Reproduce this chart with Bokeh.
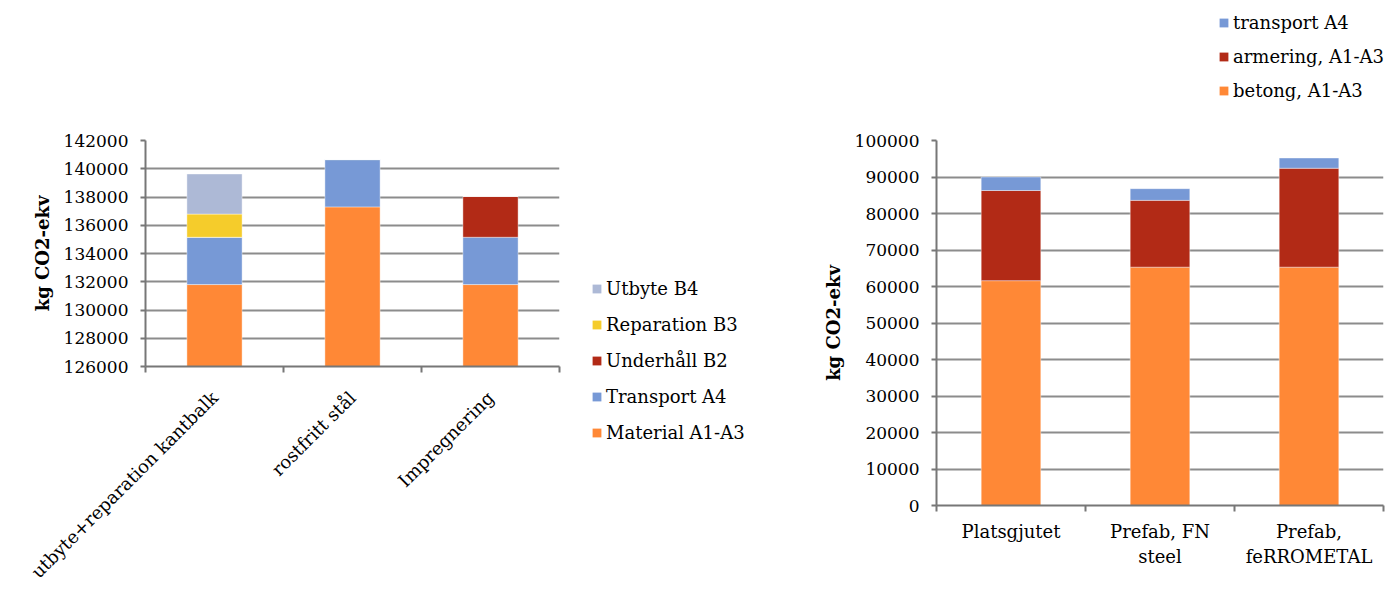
import math
from bokeh.plotting import figure
from bokeh.layouts import row, column
from bokeh.models import Range1d, FixedTicker, Legend, LegendItem, ColumnDataSource
from bokeh.embed import file_html
from bokeh.resources import INLINE

# ---------- data: left chart ----------
left_categories = ["utbyte+reparation kantbalk", "rostfritt stål", "Impregnering"]
left_series = ["Material A1-A3", "Transport A4", "Underhåll B2", "Reparation B3", "Utbyte B4"]
material = [131800, 137300, 131800]
transport_left = [3350, 3350, 3350]
underhall = [0, 0, 2890]
reparation = [1640, 0, 0]
utbyte = [2840, 0, 0]
left_ticks = [126000, 128000, 130000, 132000, 134000, 136000, 138000, 140000, 142000]

# ---------- data: right chart ----------
right_categories = ["Platsgjutet", "Prefab, FN\nsteel", "Prefab,\nfeRROMETAL"]
right_series = ["betong, A1-A3", "armering, A1-A3", "transport A4"]
betong = [61600, 65300, 65300]
armering = [24700, 18300, 27100]
transport_right = [3700, 3200, 2800]
right_ticks = [0, 10000, 20000, 30000, 40000, 50000, 60000, 70000, 80000, 90000, 100000]

y_label = "kg CO2-ekv"

ORANGE = "#FF8836"
BLUE = "#7799D6"
RED = "#B22A16"
YELLOW = "#F5CC2B"
LAVENDER = "#ADB9D6"
left_colors = [ORANGE, BLUE, RED, YELLOW, LAVENDER]
right_colors = [ORANGE, RED, BLUE]

FONT = "DejaVu Serif"
GRID = "#8c8c8c"
AXIS = "#777777"

lsrc = ColumnDataSource(dict(x=[0.5, 1.5, 2.5], m=material, t=transport_left, u=underhall,
                             r=reparation, b=utbyte))
lkeys = ["m", "t", "u", "r", "b"]
rsrc = ColumnDataSource(dict(x=[0.5, 1.5, 2.5], b=betong, a=armering, t=transport_right))
rkeys = ["b", "a", "t"]


def style(p, yticks, ncat, labels, rotate):
    p.outline_line_color = None
    p.xgrid.grid_line_color = None
    p.ygrid.grid_line_color = GRID
    p.ygrid.grid_line_width = 2
    p.yaxis.ticker = FixedTicker(ticks=yticks)
    p.yaxis.major_tick_out = 5
    p.yaxis.major_tick_in = 0
    p.yaxis.minor_tick_line_color = None
    p.yaxis.axis_line_color = AXIS
    p.yaxis.axis_line_width = 2
    p.yaxis.major_tick_line_color = AXIS
    p.yaxis.major_tick_line_width = 2
    p.yaxis.major_label_text_font = FONT
    p.yaxis.major_label_text_font_size = "17px"
    p.yaxis.major_label_text_color = "black"
    p.yaxis.major_label_standoff = 12
    p.yaxis.axis_label = y_label
    p.yaxis.axis_label_text_font = FONT
    p.yaxis.axis_label_text_font_style = "bold"
    p.yaxis.axis_label_text_font_size = "18px"
    p.yaxis.axis_label_text_color = "black"
    p.yaxis.axis_label_standoff = 8
    p.yaxis.formatter.use_scientific = False

    centers = [i + 0.5 for i in range(ncat)]
    p.xaxis.ticker = FixedTicker(ticks=centers, minor_ticks=list(range(ncat + 1)))
    p.xaxis.major_label_overrides = {c: lab for c, lab in zip(centers, labels)}
    p.xaxis.major_tick_out = 0
    p.xaxis.major_tick_in = 0
    p.xaxis.minor_tick_out = 6
    p.xaxis.minor_tick_in = 0
    p.xaxis.minor_tick_line_color = AXIS
    p.xaxis.minor_tick_line_width = 2
    p.xaxis.axis_line_color = AXIS
    p.xaxis.axis_line_width = 2
    p.xaxis.major_label_text_font = FONT
    p.xaxis.major_label_text_font_size = "18px"
    p.xaxis.major_label_text_color = "black"
    if rotate:
        p.xaxis.major_label_orientation = math.pi / 4
        p.xaxis.major_label_standoff = 22
    else:
        p.xaxis.major_label_standoff = 9


def legend_figure(width, height, series, colors, src, keys, loc, spacing):
    # a figure that only holds the legend; its bar renderers are hidden
    f = figure(width=width, height=height, x_range=Range1d(-11, -10), y_range=Range1d(-2, -1),
               output_backend="svg", toolbar_location=None,
               x_axis_location=None, y_axis_location=None,
               min_border_left=0, min_border_right=0, min_border_top=0, min_border_bottom=0)
    f.outline_line_color = None
    f.grid.grid_line_color = None
    rs = f.vbar_stack(keys, x="x", width=0.4, source=src, fill_color=colors, line_color=None)
    for r in rs:
        r.visible = False
    items = [LegendItem(label=s, renderers=[r]) for s, r in zip(series, rs)][::-1]
    lg = Legend(items=items, location=loc)
    lg.click_policy = "none"
    lg.glyph_width = 11
    lg.glyph_height = 11
    lg.label_height = 20
    lg.label_standoff = 4
    lg.spacing = spacing
    lg.padding = 0
    lg.margin = 0
    lg.border_line_color = None
    lg.background_fill_alpha = 0
    lg.label_text_font = FONT
    lg.label_text_font_size = "18px"
    lg.label_text_color = "black"
    f.add_layout(lg)
    return f


# ---------- left chart ----------
lp = figure(width=580, height=592, x_range=Range1d(0, 3), y_range=Range1d(126000, 142000),
            output_backend="svg", toolbar_location=None,
            min_border_left=145, min_border_right=21, min_border_top=140, min_border_bottom=215)
lp.vbar_stack(lkeys, x="x", width=0.4, source=lsrc,
              color=left_colors, line_color="white", line_alpha=0.4, line_width=1)
style(lp, left_ticks, 3, left_categories, True)

lleg = legend_figure(189, 592, left_series, left_colors, lsrc, lkeys, (11, 149), 15)

# ---------- right chart ----------
rleg = legend_figure(620, 128, right_series, right_colors, rsrc, rkeys, (449, 27), 13)

rp = figure(width=620, height=464, x_range=Range1d(0, 3), y_range=Range1d(0, 100000),
            output_backend="svg", toolbar_location=None,
            min_border_left=167, min_border_right=6, min_border_top=12, min_border_bottom=87)
rp.vbar_stack(rkeys, x="x", width=0.4, source=rsrc,
              color=right_colors, line_color="white", line_alpha=0.4, line_width=1)
style(rp, right_ticks, 3, right_categories, False)

layout = row(column(lp), column(lleg), column(column(rleg), column(rp)))
open("out.html", "w").write(file_html(layout, INLINE))
